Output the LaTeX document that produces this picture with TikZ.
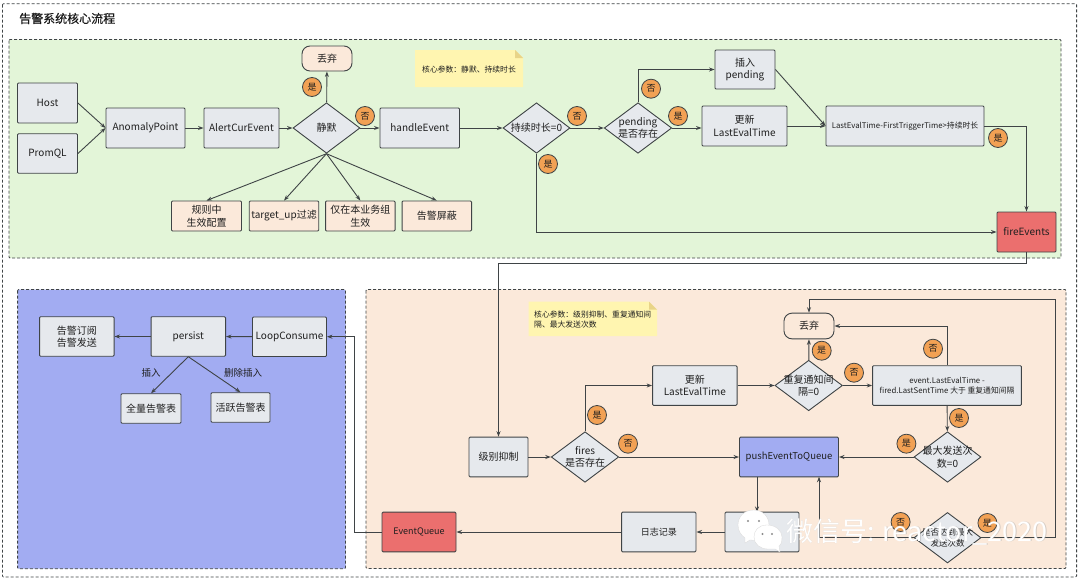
\documentclass[tikz,border=0pt]{standalone}
\usepackage{fontspec}
\setmainfont{Noto Sans CJK SC}
\usetikzlibrary{shapes.geometric,arrows.meta}
\definecolor{lineC}{HTML}{3F4446}
\definecolor{greenBg}{HTML}{E3F5D8}
\definecolor{peachBg}{HTML}{FBE9DA}
\definecolor{blueBg}{HTML}{A2ACF2}
\definecolor{redC}{HTML}{EB6F6E}
\definecolor{greyC}{HTML}{E6E9ED}
\definecolor{badgeC}{HTML}{F2A154}
\definecolor{noteC}{HTML}{FFF5B0}
\definecolor{foldC}{HTML}{E8D488}
\tikzset{
 txt/.style={font=\fontsize{10}{12.5}\selectfont,text=black!88,align=center,inner sep=0pt},
 wh/.style 2 args={minimum width=#1pt,minimum height=#2pt},
 boxG/.style={txt,draw=lineC,line width=.9pt,rounded corners=1pt,fill=greyC},
 boxP/.style={boxG,fill=peachBg},
 boxR/.style={boxG,fill=redC},
 boxB/.style={boxG,fill=blueBg},
 term/.style={txt,draw=lineC,line width=.9pt,rounded corners=8pt},
 dia/.style={diamond,draw=lineC,line width=.9pt,fill=greyC,inner sep=0pt,wh={#1}{50.5}},
 dtext/.style={txt},
 badge/.style={circle,draw=lineC,line width=.8pt,fill=badgeC,minimum size=19pt,inner sep=0pt,font=\fontsize{9}{10}\selectfont,text=black!88},
 zone/.style={draw=lineC,line width=.8pt,dash pattern=on 3pt off 2pt,rounded corners=1pt},
 arr/.style={draw=lineC,line width=.9pt,-{Stealth[length=5.5pt,width=4pt]}},
 small/.style={font=\fontsize{7.8}{10.5}\selectfont,text=black!88,align=left,inner sep=0pt},
}
\begin{document}
\begin{tikzpicture}[x=1pt,y=-1pt]
\useasboundingbox (0,0) rectangle (1080,581);
\fill[white] (0,0) rectangle (1080,581);
% zones
\draw[zone] (2.4,3.7) rectangle (1076.6,577);
\draw[zone,fill=greenBg] (9,39.5) rectangle (1061,258);
\draw[zone,fill=blueBg] (17.6,289.5) rectangle (345.5,568.7);
\draw[zone,fill=peachBg] (366,289.5) rectangle (1066,568.5);
\node[font=\fontsize{12}{14}\selectfont\addfontfeature{FakeBold=0.4},text=black!90,anchor=west,inner sep=0pt] (title) at (19,18.5) {告警系统核心流程};
% notes
\fill[noteC] (415,50) -- (515,50) -- (523,58) -- (523,87) -- (415,87) -- cycle;
\fill[foldC] (515,50) -- (523,58) -- (515,58) -- cycle;
\node[small,anchor=west] (note1) at (422,69.5) {核心参数：静默、持续时长};
\fill[noteC] (528.6,301.7) -- (649,301.7) -- (657,309.7) -- (657,336) -- (528.6,336) -- cycle;
\fill[foldC] (649,301.7) -- (657,309.7) -- (649,309.7) -- cycle;
\node[small,anchor=west] (note2) at (534,319.5) {核心参数：级别抑制、重复通知间\\隔、最大发送次数};
% green zone nodes
\node[boxG,wh={60}{40}] (host) at (47.5,103) {Host};
\node[boxG,wh={60}{39.5}] (prom) at (47.5,153.5) {PromQL};
\node[boxG,wh={79}{40}] (ap) at (145.5,128) {AnomalyPoint};
\node[boxG,wh={75}{40}] (ace) at (241.5,128) {AlertCurEvent};
\node[dia=67] (sil) at (326.5,128) [label={[dtext]center:静默}] {};
\node[term,fill=peachBg,wh={50}{25}] (drop1) at (327,58.5) {丢弃};
\node[boxG,wh={79.5}{40}] (he) at (419.7,128) {handleEvent};
\node[boxP,wh={70}{30}] (r1) at (206.5,216) {规则中\\生效配置};
\node[boxP,wh={69.5}{30}] (r2) at (284,216) {target\_up过滤};
\node[boxP,wh={69.5}{30}] (r3) at (360.3,216) {仅在本业务组\\生效};
\node[boxP,wh={69.5}{30}] (r4) at (436.8,216) {告警屏蔽};
\node[dia=67] (dur) at (536.5,128) [label={[dtext]center:持续时长=0}] {};
\node[dia=67.5] (pend) at (638,128) [label={[dtext,align=center]center:pending\\是否存在}] {};
\node[boxG,wh={60}{39}] (ins) at (745,69.5) {插入\\pending};
\node[boxG,wh={85}{40}] (upd1) at (744.5,126) {更新\\LastEvalTime};
\node[boxG,wh={158}{40},font=\fontsize{7.8}{10}\selectfont] (lt) at (905,126) {LastEvalTime-FirstTriggerTime>持续时长};
\node[boxR,wh={59}{40}] (fire) at (1026.5,232) {fireEvents};
% blue zone nodes
\node[boxG,wh={74.5}{39.5}] (sub) at (76.8,336.5) {告警订阅\\告警发送};
\node[boxG,wh={74.5}{39.5}] (per) at (188.3,336.5) {persist};
\node[boxG,wh={74}{39.5}] (loop) at (289.5,336.7) {LoopConsume};
\node[boxG,wh={60}{29.5}] (all) at (151,408.5) {全量告警表};
\node[boxG,wh={59}{29.5}] (act) at (240.5,407.5) {活跃告警表};
% peach zone nodes
\node[boxG,wh={59}{39.7}] (lvl) at (498.5,457) {级别抑制};
\node[dia=67.5] (fires) at (585,457) [label={[dtext,align=center]center:fires\\是否存在}] {};
\node[boxG,wh={84.5}{39.6}] (upd2) at (694.8,385.5) {更新\\LastEvalTime};
\node[dia=67.5] (rep) at (808.7,385.5) [label={[dtext,align=center]center:重复通知间\\隔=0}] {};
\node[term,fill=peachBg,wh={50}{25.7}] (drop2) at (809,326) {丢弃};
\node[boxG,wh={148.8}{39.6},font=\fontsize{7.8}{10}\selectfont] (ev) at (947,385.5) {event.LastEvalTime -\\fired.LastSentTime 大于 重复通知间隔};
\node[boxB,wh={99}{39.7},font=\fontsize{9.5}{12}\selectfont] (push) at (789,457) {pushEventToQueue};
\node[dia=67] (mx) at (947.5,457) [label={[dtext,align=center]center:最大发送次\\数=0}] {};
\node[dia=67] (mr) at (947.5,537.7) [label={[dtext,align=center,font=\fontsize{8.5}{11}\selectfont]center:是否达到最大\\发送次数}] {};
\node[boxG,wh={74}{39.7},font=\fontsize{7.5}{10}\selectfont,text=black!35] (uf) at (762,532) {更新fires};
\node[boxG,wh={74.4}{39.7},font=\fontsize{9}{11}\selectfont] (log) at (658.8,532) {日志记录};
\node[boxR,wh={74}{39.7},font=\fontsize{9}{11}\selectfont] (eq) at (419,532) {EventQueue};
% helper points
\coordinate (c1) at (498.5,263);
\coordinate (c2) at (1055.6,299.3);
\coordinate (c3) at (819,476.7);
\coordinate (c4) at (354.4,336.7);
\coordinate (c5) at (757,476.7);
\coordinate (c6) at (757,512);
% connectors, green zone
\draw[arr] (host.east) -- (ap.west);
\draw[arr] (prom.east) -- (ap.west);
\draw[arr] (ap) -- (ace);
\draw[arr] (ace) -- (sil);
\draw[arr] (sil) -- (he);
\draw[arr] (sil) -- (drop1);
\draw[arr] (sil.south) -- (r1.north);
\draw[arr] (sil.south) -- (r2.north);
\draw[arr] (sil.south) -- (r3.north);
\draw[arr] (sil.south) -- (r4.north);
\draw[arr] (he) -- (dur);
\draw[arr] (dur) -- (pend);
\draw[arr] (pend.north) |- (ins.west);
\draw[arr] (pend.east) -- (upd1.west |- pend.east);
\draw[arr] (ins.east) -- (lt.west);
\draw[arr] (upd1.east) -- (lt.west);
\draw[arr] (lt.east) -| (fire.north);
\draw[arr] (dur.south) |- (fire.west);
\draw[arr] (fire.south) |- (c1) -- (lvl.north);
% connectors, blue zone
\draw[arr] (loop) -- (per);
\draw[arr] (per) -- (sub);
\draw[arr] (per.south) -- (all.north);
\draw[arr] (per.south) -- (act.north);
\node[txt,font=\fontsize{9.5}{11}\selectfont] (l1) at (151,373) {插入};
\node[txt,font=\fontsize{9.5}{11}\selectfont] (l2) at (243,372.5) {删除插入};
% connectors, peach zone
\draw[arr] (eq.west) -| (c4) -- (loop.east);
\draw[arr] (lvl) -- (fires);
\draw[arr] (fires.north) |- (upd2.west);
\draw[arr] (fires) -- (push);
\draw[arr] (upd2) -- (rep);
\draw[arr] (rep) -- (ev);
\draw[arr] (rep) -- (drop2);
\draw[arr] (ev.north) |- (drop2.east);
\draw[arr] (ev) -- (mx);
\draw[arr] (mx) -- (push);
\draw[arr] (c5) -- (c6);
\draw[arr] (mr.west) -| (c3);
\draw[arr] (mr.east) -| (c2) -| (drop2.north);
\draw[arr] (uf) -- (log);
\draw[arr] (log) -- (eq);
% badges
\node[badge] (b1) at (312,87) {是};
\node[badge] (b2) at (365,116) {否};
\node[badge] (b3) at (577,116) {否};
\node[badge] (b4) at (548,164) {是};
\node[badge] (b5) at (651,88.7) {否};
\node[badge] (b6) at (678,116) {是};
\node[badge] (b7) at (998,138) {是};
\node[badge] (b8) at (821.7,350.7) {是};
\node[badge] (b9) at (854,372.7) {否};
\node[badge] (b10) at (933,348.7) {否};
\node[badge] (b11) at (959,418) {是};
\node[badge] (b12) at (906.4,443.7) {是};
\node[badge] (b13) at (597,415) {是};
\node[badge] (b14) at (628,443.7) {否};
\node[badge] (b15) at (900.6,522) {否};
\node[badge] (b16) at (987.4,523) {是};
% watermark
\begin{scope}[line width=.3pt,draw=black!15,fill=white]
\draw[fill=white] (753.5,510) .. controls (743,510) and (738,518) .. (738,525) .. controls (738,531) and (741,535) .. (745,538) -- (745,543) -- (750,540) .. controls (762,542) and (769,534) .. (769,525) .. controls (769,517) and (763,510) .. (753.5,510) -- cycle;
\draw[fill=white] (767,525) .. controls (758,525) and (754,531) .. (754,537) .. controls (754,544) and (760,549) .. (768,549) -- (775,549) -- (780,552) -- (779,546) .. controls (782,544) and (782,540) .. (782,537) .. controls (782,531) and (776,525) .. (767,525) -- cycle;
\end{scope}
\fill[black!45] (748,521) circle (1.2pt) (759,521) circle (1.2pt) (762.5,534) circle (1.1pt) (772,534) circle (1.1pt);
\node[font=\fontsize{27}{30}\selectfont,text=black!35,opacity=.45,anchor=west,inner sep=0pt] (wm0) at (786.6,532.5) {微信号: reactor\_2020};
\node[font=\fontsize{27}{30}\selectfont,text=white,anchor=west,inner sep=0pt] (wm) at (786,532) {微信号: reactor\_2020};
\end{tikzpicture}
\end{document}
